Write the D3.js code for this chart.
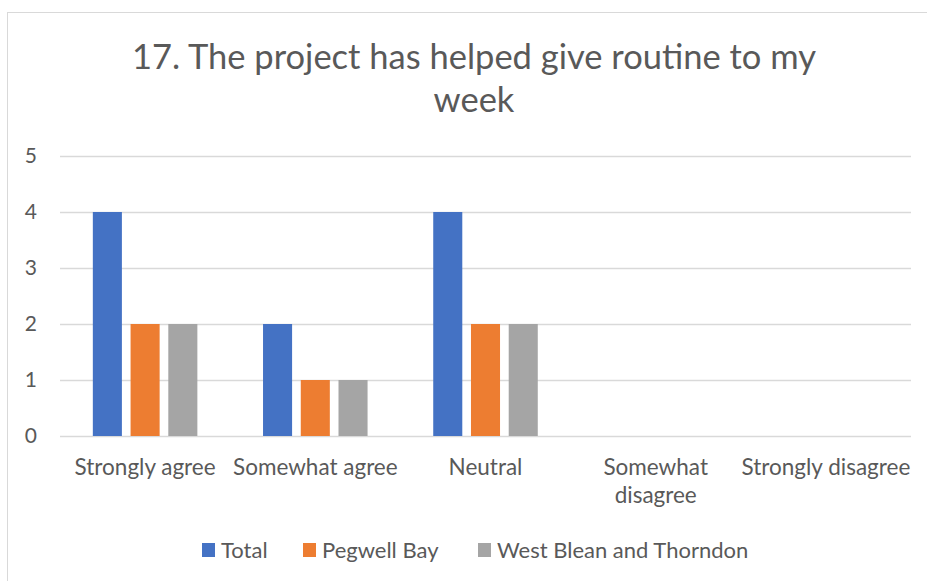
<!DOCTYPE html>
<html lang="en">
  <head>
    <meta charset="UTF-8">
    <title>Chart</title>
    <style>
      body { margin: 0; background: #fff; }
      text { font-family: Lato, "Open Sans", sans-serif; fill: #595959; }
    </style>
  </head>
  <body>
    <div id="chart"></div>
    <script src="https://d3js.org/d3.v7.min.js"></script>
    <script>
      let width = 927;
      let height = 581;

      let categories = ["Strongly agree", "Somewhat agree", "Neutral", "Somewhat disagree", "Strongly disagree"];
      let tickLabels = [["Strongly agree"], ["Somewhat agree"], ["Neutral"], ["Somewhat", "disagree"], ["Strongly disagree"]];
      let seriesNames = ["Total", "Pegwell Bay", "West Blean and Thorndon"];
      let total = [4, 2, 4, 0, 0];
      let pegwell = [2, 1, 2, 0, 0];
      let westBlean = [2, 1, 2, 0, 0];
      let colors = ["#4472c4", "#ed7d31", "#a5a5a5"];
      let yTicks = [0, 1, 2, 3, 4, 5];
      let titleLines = ["17. The project has helped give routine to my", "week"];

      let series = [total, pegwell, westBlean];

      let svg = d3.select("#chart").append("svg").attr("width", width).attr("height", height);

      // chart border
      svg.append("rect")
        .attr("x", 7.5).attr("y", 12.5)
        .attr("width", width).attr("height", height)
        .attr("fill", "white")
        .attr("stroke", "#d9d9d9")
        .attr("stroke-width", 1);

      let plotLeft = 60, plotRight = 911, plotTop = 156, plotBottom = 436;

      let x = d3.scaleBand().domain(categories).range([plotLeft, plotRight]);
      let xs = d3.scaleBand().domain(seriesNames).range([0, x.bandwidth()]).paddingInner(0.23).paddingOuter(0.87);
      let y = d3.scaleLinear().domain([0, 5]).range([plotBottom, plotTop]);

      // gridlines
      svg.append("g").selectAll("line")
        .data(yTicks)
        .enter()
        .append("line")
        .attr("x1", plotLeft).attr("x2", plotRight)
        .attr("y1", d => Math.round(y(d)) + 0.5).attr("y2", d => Math.round(y(d)) + 0.5)
        .attr("stroke", "#d9d9d9")
        .attr("stroke-width", 1.3);

      svg.append("g").selectAll("text")
        .data(yTicks)
        .enter()
        .append("text")
        .attr("x", 37)
        .attr("y", d => y(d) + 7)
        .attr("text-anchor", "end")
        .style("font-size", "21px")
        .text(d => d);

      // bars
      series.forEach(function(vals, si) {
        svg.append("g").selectAll("rect")
          .data(vals)
          .enter()
          .append("rect")
          .attr("x", (d, i) => x(categories[i]) + xs(seriesNames[si]))
          .attr("y", d => y(d))
          .attr("width", xs.bandwidth())
          .attr("height", d => y(0) - y(d))
          .attr("fill", colors[si]);
      });

      // category labels
      let cat = svg.append("g").selectAll("text")
        .data(tickLabels)
        .enter()
        .append("text")
        .attr("text-anchor", "middle")
        .style("font-size", "22.5px")
        .attr("transform", (d, i) => "translate(" + (x(categories[i]) + x.bandwidth() / 2) + ",475)");
      cat.selectAll("tspan")
        .data(d => d)
        .enter()
        .append("tspan")
        .attr("x", 0)
        .attr("dy", (d, j) => j === 0 ? 0 : 28)
        .text(d => d);

      // title
      svg.append("g").selectAll("text")
        .data(titleLines)
        .enter()
        .append("text")
        .attr("x", 474)
        .attr("y", (d, i) => 69 + i * 43)
        .attr("text-anchor", "middle")
        .style("font-size", "34.5px")
        .text(d => d);

      // legend
      let legendX = [202, 303, 478];
      let leg = svg.append("g").selectAll("g")
        .data(seriesNames)
        .enter()
        .append("g")
        .attr("transform", (d, i) => "translate(" + legendX[i] + ",543)");
      leg.append("rect")
        .attr("width", 13).attr("height", 14)
        .attr("fill", (d, i) => colors[i]);
      leg.append("text")
        .attr("x", 19).attr("y", 14.5)
        .style("font-size", "22px")
        .text(d => d);
    </script>
  </body>
</html>
